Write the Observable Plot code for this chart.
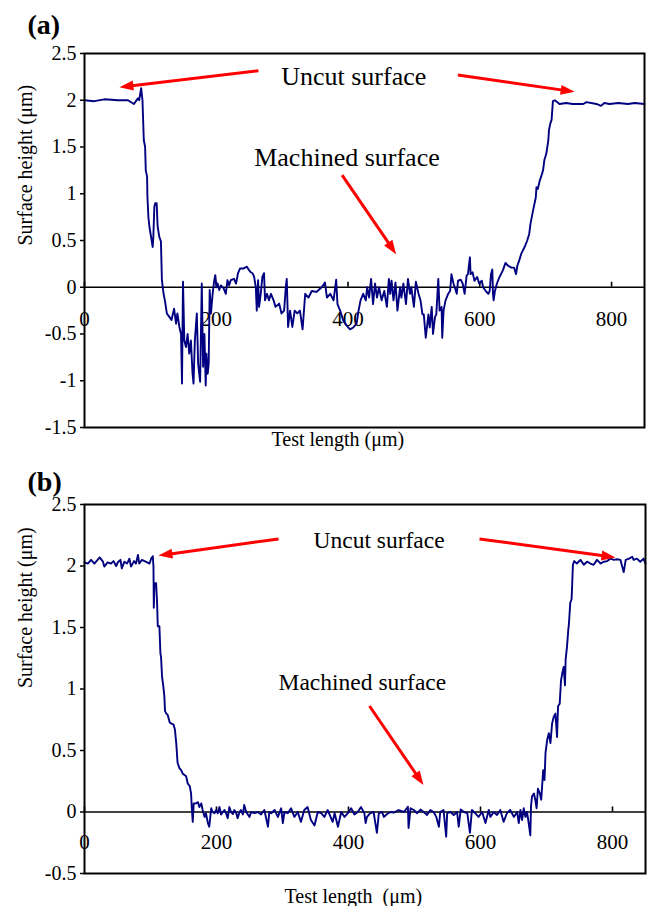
<!DOCTYPE html>
<html>
<head>
<meta charset="utf-8">
<script src="https://cdn.jsdelivr.net/npm/d3@7"></script>
<script src="https://cdn.jsdelivr.net/npm/@observablehq/plot@0.6"></script>
<style>
  body { margin: 0; background: #fff; }
  #chart svg { display: block; }
  #chart svg, #chart svg text { font-family: 'Liberation Serif', 'Times New Roman', serif !important; }
</style>
</head>
<body>
<div id="chart"></div>
<script>
// ---------- data ----------
const xDomain = [0, 850];
const xTicks = [0, 200, 400, 600, 800];
const yDomainA = [-1.5, 2.5];
const yTicksA = [-1.5, -1, -0.5, 0, 0.5, 1, 1.5, 2, 2.5];
const yDomainB = [-0.5, 2.5];
const yTicksB = [-0.5, 0, 0.5, 1, 1.5, 2, 2.5];

// (a) surface profile: [test length µm, height µm]
const profileA = [
[0,2.00],[15,1.99],[30,2.01],[51,2.00],[66,2.00],[75,1.96],[81,2.02],[83,2.00],[86,2.13],[88,2.00],
[90,1.575],[92,1.50],[93,1.25],[95,1.18],[95.5,0.97],[97,0.75],[98.5,0.65],[101,0.54],[103.5,0.43],[104.5,0.54],
[106,0.86],[107.5,0.90],[109.5,0.90],[111,0.65],[113.5,0.54],[116,0.49],[117.5,0.075],[120,-0.07],[122,-0.14],[125,-0.28],
[129,-0.32],[132,-0.35],[136,-0.23],[139,-0.39],[141,-0.28],[144,-0.425],[146.5,-0.50],[148,-1.03],[149.5,0.06],[151.5,-0.57],
[154,-0.64],[156.5,-0.50],[159,-0.71],[161.5,-0.57],[164,-0.925],[165.5,-1.03],[167.5,-0.57],[170.5,-0.28],[172.5,-0.82],[175.5,-1.01],
[178,0.04],[180,-0.85],[182,-0.50],[184,-1.05],[185,-0.71],[187,-0.925],[188.5,-0.82],[190,-0.03],[192,-0.28],[194.5,-0.07],
[197,0.075],[198.5,0.13],[200.5,0.00],[202,0.04],[204.5,-0.03],[207,0.02],[211,-0.01],[214.5,-0.07],[217,0.075],[219.5,0.02],
[222,0.075],[227,0.09],[230,0.04],[233,0.15],[236,0.20],[241,0.20],[246.5,0.22],[250,0.18],[252.5,0.16],[255,0.15],
[257.5,0.11],[260,0.00],[261.5,-0.25],[263.5,0.075],[265,-0.21],[267.5,-0.07],[270,0.11],[272.5,0.15],[274,-0.14],[277,-0.07],
[280,-0.14],[283,-0.07],[287,-0.14],[290,-0.21],[295.5,-0.175],[299,-0.28],[303,-0.25],[305.5,0.00],[307,0.09],[309,-0.425],
[312,-0.25],[315.5,-0.425],[319,-0.25],[323,-0.28],[327,-0.25],[331,-0.45],[335,-0.07],[340,-0.11],[345,-0.04],[352,-0.05],
[360,0.00],[365,0.05],[368,-0.11],[373,-0.07],[378,-0.14],[382,0.08],[384,-0.18],[388,-0.25],[393,-0.36],[398,-0.41],
[403,-0.45],[408,-0.43],[413,-0.39],[416,-0.25],[419,-0.14],[423,-0.07],[427,-0.14],[429,0.00],[432,-0.11],[435,0.09],
[438,-0.18],[441,0.04],[444,-0.11],[447,0.00],[451,-0.14],[455,-0.04],[459,-0.21],[462,0.09],[464,-0.07],[466,0.07],
[469,-0.14],[472,0.05],[475,-0.25],[479,0.00],[481,-0.11],[484,0.04],[488,-0.18],[491,0.09],[494,-0.07],[496,0.00],
[500,-0.21],[503,0.06],[507,-0.07],[510,-0.14],[513,-0.29],[515,-0.29],[518,-0.54],[522,-0.29],[524,-0.43],[527,-0.21],
[529,-0.50],[532,-0.32],[534,-0.29],[537,0.09],[539,-0.25],[542,-0.21],[543,-0.54],[545,-0.25],[548,-0.14],[552,-0.07],
[555,-0.04],[557,0.14],[560,0.04],[562,0.00],[565,-0.07],[567,0.07],[571,0.08],[574,0.04],[577,-0.07],[580,0.125],
[582,0.14],[585,0.32],[586,0.14],[589,0.16],[592,0.07],[596,0.11],[599,0.04],[603,0.07],[605,0.00],[609,-0.04],
[613,-0.07],[615,-0.04],[617,0.14],[619,0.19],[620,-0.07],[621,-0.14],[623,-0.04],[626,0.04],[630,0.11],[635,0.18],
[639,0.26],[643,0.23],[648,0.21],[652,0.21],[655,0.14],[657,0.23],[660,0.29],[663,0.36],[668,0.43],[672,0.50],
[675,0.57],[677,0.68],[680,0.79],[682,0.86],[685,0.96],[686,1.07],[688,1.05],[691,1.14],[693,1.18],[696,1.25],
[698,1.36],[701,1.43],[704,1.57],[705,1.68],[707,1.75],[709,1.79],[711,1.99],[714,2.00],[721,1.96],[731,1.97],
[741,1.96],[757,1.96],[762,1.98],[777,1.96],[784,1.94],[789,1.97],[797,1.96],[810,1.97],[825,1.96],[835,1.97],[850,1.96]
];

// (b) surface profile: [test length µm, height µm]
const profileB = [
[0,2.03],[5,2.02],[10,2.05],[15,2.02],[23,2.07],[28,2.035],[30,1.995],[35,2.03],[40,2.02],[44,2.04],
[48,2.00],[50.5,2.03],[54.5,2.05],[56.5,1.98],[60.5,2.035],[64.5,2.02],[68,2.06],[70.5,1.995],[75,2.04],[78,2.02],
[81,2.09],[83,2.02],[87,2.05],[91,2.04],[95,2.03],[98.5,2.02],[101,2.06],[103.5,2.08],[104.5,1.995],[105,1.66],
[106,1.86],[108.5,1.86],[110,1.70],[111,1.51],[113.5,1.51],[115,1.29],[116,1.26],[117.5,1.10],[119.5,1.02],[121,0.94],
[122,0.82],[124,0.80],[126,0.79],[129,0.73],[131,0.72],[135,0.71],[137,0.67],[139,0.56],[141,0.40],[144,0.355],
[146.5,0.34],[149,0.31],[151.5,0.30],[154,0.29],[156.5,0.23],[159.5,0.21],[161.5,0.15],[162.5,0.04],[164,-0.08],[165.5,0.07],
[169,0.07],[172,0.08],[174,0.04],[177,0.07],[179,0.016],[182,-0.04],[184,-0.01],[187,-0.09],[189,-0.12],[192,0.03],
[194,0.00],[197,-0.01],[199.5,0.016],[202,-0.01],[204.5,0.04],[207,-0.02],[209.5,0.00],[212,0.016],[214.5,-0.01],[217,-0.05],
[219.5,0.04],[222,0.00],[225,-0.016],[227,0.016],[230,-0.01],[232,-0.05],[235,0.00],[237,0.016],[240,-0.02],[242,0.057],
[245,0.00],[247.5,-0.02],[250,-0.04],[252.5,0.00],[257.5,-0.01],[262.5,0.00],[267.5,-0.02],[272.5,0.016],[278,-0.12],[280,0.00],
[283,-0.01],[288,0.016],[293,-0.04],[298,0.03],[300.5,-0.09],[303,0.00],[308,-0.01],[313,0.03],[318,-0.04],[323,0.00],
[328,-0.08],[333,0.016],[338,0.04],[343,-0.065],[348.5,-0.11],[353.5,0.00],[358.5,-0.01],[363.5,-0.04],[368.5,0.016],[376,-0.08],
[379,-0.01],[384,-0.12],[389,0.00],[394,-0.04],[399,-0.01],[404,0.03],[409,-0.02],[414,0.00],[419,0.04],[424,-0.01],
[426,-0.09],[428,-0.04],[433,-0.01],[438,0.00],[443,-0.17],[446,-0.01],[451,0.00],[453.5,-0.04],[458.5,-0.016],[463.5,0.00],
[468.5,-0.005],[476,0.016],[484,0.00],[490,0.043],[491,-0.13],[494,0.03],[499,0.016],[504,-0.01],[509,0.02],[514,0.00],
[519,-0.024],[524,0.016],[529,0.00],[533,-0.04],[537,-0.12],[539,0.00],[544,0.016],[548,-0.20],[549.5,-0.01],[554.5,0.00],
[559.5,-0.024],[564.5,0.00],[567,-0.12],[570,0.02],[575,0.00],[580,-0.01],[584,-0.17],[587,0.016],[592,-0.01],[597,-0.04],
[602.5,0.00],[607.5,-0.09],[612.5,0.016],[615,-0.04],[620,0.00],[625,-0.024],[630,0.016],[635,-0.08],[640,-0.01],[645,0.016],
[650.5,-0.04],[655.5,0.00],[658,-0.09],[660.5,0.016],[663,-0.065],[665.5,0.03],[668,-0.04],[670.5,0.00],[673,-0.09],[675.5,-0.19],
[676.5,0.043],[678,0.125],[681,0.15],[683,0.10],[685,0.03],[687,0.19],[690,0.15],[692,0.10],[695,0.34],[697,0.26],
[698.5,0.48],[701,0.585],[703.5,0.64],[706,0.56],[708.5,0.72],[711,0.775],[713.5,0.80],[716,0.61],[717.5,0.86],[720,0.88],
[722,1.07],[724,1.13],[726,1.18],[728,1.03],[729,1.24],[731,1.34],[733,1.48],[734,1.53],[736,1.70],[738,1.73],
[739,1.86],[740,2.01],[742,2.04],[746,2.02],[751.5,2.05],[756.5,2.01],[761.5,2.035],[766.5,2.02],[771.5,2.01],[776.5,2.05],
[782,2.02],[787,2.035],[792,2.04],[797,2.06],[802,2.05],[807,2.055],[812,2.05],[817,1.95],[820,2.05],[825,2.06],
[830,2.075],[832,2.05],[837,2.06],[842,2.035],[847,2.06],[850,2.02]
];

// annotations (data coordinates)
const labelsA = [
  {text: "Uncut surface", x: 298.5, y: 2.165},
  {text: "Machined surface", x: 257.6, y: 1.297}
];
const arrowsA = [
  {x1: 264, y1: 2.315, x2: 53, y2: 2.14},
  {x1: 566.7, y1: 2.27, x2: 744, y2: 2.09},
  {x1: 391, y1: 1.20, x2: 473, y2: 0.354}
];
const labelsB = [
  {text: "Uncut surface", x: 347, y: 2.144},
  {text: "Machined surface", x: 294, y: 0.992}
];
const arrowsB = [
  {x1: 294, y1: 2.22, x2: 112, y2: 2.085},
  {x1: 598.5, y1: 2.22, x2: 804.5, y2: 2.07},
  {x1: 431.8, y1: 0.862, x2: 513.6, y2: 0.22}
];

// ---------- drawing ----------
const FONT = "'Liberation Serif', 'Times New Roman', serif";
const LINE = "#000080";
const RED = "#ff0000";
const HEAD = 14;      // arrow head length (px)
const HALFW = 5;      // arrow head half width (px)

function panel(cfg) {
  const width = 647, marginLeft = 84;
  const xs = d3.scaleLinear(xDomain, [marginLeft, width - cfg.marginRight]);
  const ys = d3.scaleLinear(cfg.yDomain, [cfg.height - cfg.marginBottom, cfg.marginTop]);
  const shafts = [], heads = [];
  cfg.arrows.forEach((a, i) => {
    const X1 = xs(a.x1), Y1 = ys(a.y1), X2 = xs(a.x2), Y2 = ys(a.y2);
    const L = Math.hypot(X2 - X1, Y2 - Y1);
    const ux = (X2 - X1) / L, uy = (Y2 - Y1) / L;
    const nx = -uy, ny = ux;
    const BX = X2 - ux * HEAD, BY = Y2 - uy * HEAD;
    shafts.push({x1: a.x1, y1: a.y1, x2: xs.invert(X2 - ux * HEAD * 0.6), y2: ys.invert(Y2 - uy * HEAD * 0.6)});
    heads.push({id: i, x: a.x2, y: a.y2});
    heads.push({id: i, x: xs.invert(BX + nx * HALFW), y: ys.invert(BY + ny * HALFW)});
    heads.push({id: i, x: xs.invert(BX - nx * HALFW), y: ys.invert(BY - ny * HALFW)});
  });
  const T = {fontFamily: FONT};
  return Plot.plot({
    width, height: cfg.height,
    marginLeft, marginRight: cfg.marginRight, marginTop: cfg.marginTop, marginBottom: cfg.marginBottom,
    style: {fontFamily: FONT, background: "#fff", color: "#000"},
    x: {domain: xDomain, axis: null},
    y: {domain: cfg.yDomain, axis: null},
    marks: [
      Plot.ruleY([0], {stroke: "#000", strokeWidth: 1.6}),
      Plot.ruleX(xTicks, {x: d => d, y1: 0, y2: 0, insetTop: -5, insetBottom: 0, stroke: "#000", strokeWidth: 1.6}),
      Plot.text(xTicks, {...T, x: d => d, y: 0, text: d => String(d), dy: cfg.tickDy, fontSize: 21}),
      Plot.line(cfg.profile, {x: d => d[0], y: d => d[1], stroke: LINE, strokeWidth: 1.9}),
      Plot.axisY(cfg.yTicks, {...T, tickSize: 4, tickPadding: 4, fontSize: 20, tickFormat: d => String(d), strokeWidth: 1.5, label: null}),
      Plot.frame({stroke: "#000", strokeWidth: 2}),
      Plot.text([cfg.yTitle], {...T, frameAnchor: "left", rotate: -90, dx: -59, dy: cfg.yTitleDy, fontSize: 20}),
      Plot.text([cfg.xTitle], {...T, frameAnchor: "bottom-left", textAnchor: "start", dx: cfg.xTitleDx, dy: cfg.xTitleDy, fontSize: 20}),
      Plot.text([cfg.panelLabel], {...T, frameAnchor: "top-left", textAnchor: "start", lineAnchor: "bottom", dx: -57, dy: cfg.panelDy, fontSize: 28, fontWeight: "bold"}),
      Plot.text(cfg.labels, {...T, x: "x", y: "y", text: "text", textAnchor: "start", lineAnchor: "bottom", fontSize: cfg.annoSize}),
      Plot.link(shafts, {x1: "x1", y1: "y1", x2: "x2", y2: "y2", stroke: RED, strokeWidth: 3}),
      Plot.line(heads, {x: "x", y: "y", z: "id", fill: RED, stroke: "none"})
    ]
  });
}

const chart = document.getElementById("chart");
chart.append(panel({
  profile: profileA, yDomain: yDomainA, yTicks: yTicksA,
  height: 455, marginTop: 53, marginBottom: 28, marginRight: 3,
  tickDy: 32, yTitle: "Surface height (μm)", yTitleDy: 5,
  xTitle: "Test length (μm)", xTitleDx: 187, xTitleDy: 18,
  panelLabel: "(a)", panelDy: -20,
  labels: labelsA, arrows: arrowsA, annoSize: 26
}));
chart.append(panel({
  profile: profileB, yDomain: yDomainB, yTicks: yTicksB,
  height: 451, marginTop: 49, marginBottom: 33, marginRight: 2,
  tickDy: 30, yTitle: "Surface height (μm)", yTitleDy: -1,
  xTitle: "Test length\u00a0 (μm)", xTitleDx: 200, xTitleDy: 29,
  panelLabel: "(b)", panelDy: -14,
  labels: labelsB, arrows: arrowsB, annoSize: 23.5
}));
</script>
</body>
</html>
